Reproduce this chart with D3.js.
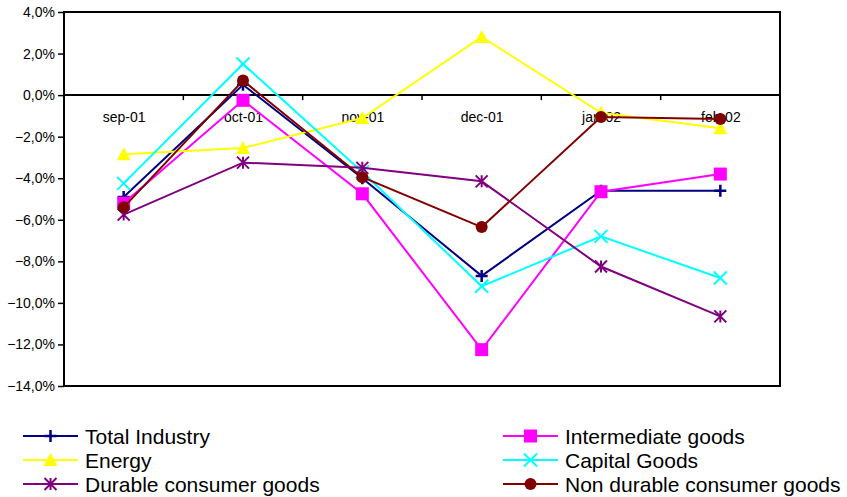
<!DOCTYPE html>
<html><head><meta charset="utf-8">
<script src="https://cdn.jsdelivr.net/npm/d3@7"></script>
<style>body{margin:0;background:#fff}svg{display:block}</style>
</head><body>
<svg id="c" width="847" height="497"></svg>
<script>
const categories = ['sep-01','oct-01','nov-01','dec-01','jan-02','feb-02'];
const yTicks = [4,2,0,-2,-4,-6,-8,-10,-12,-14];
const totalIndustry = [-4.9, 0.5, -4.0, -8.7, -4.6, -4.6];
const intermediateGoods = [-5.2, -0.25, -4.75, -12.25, -4.65, -3.8];
const energy = [-2.85, -2.55, -1.1, 2.8, -0.85, -1.6];
const capitalGoods = [-4.25, 1.5, -3.7, -9.2, -6.8, -8.8];
const durableGoods = [-5.75, -3.25, -3.5, -4.15, -8.25, -10.65];
const nonDurableGoods = [-5.4, 0.7, -3.95, -6.35, -1.05, -1.15];

const series = [
  {name:'Total Industry', values: totalIndustry, color:'#000080', marker:'plus', col:0, row:0},
  {name:'Intermediate goods', values: intermediateGoods, color:'#FF00FF', marker:'square', col:1, row:0},
  {name:'Energy', values: energy, color:'#FFFF00', marker:'triangle', col:0, row:1},
  {name:'Capital Goods', values: capitalGoods, color:'#00FFFF', marker:'x', col:1, row:1},
  {name:'Durable consumer goods', values: durableGoods, color:'#800080', marker:'star', col:0, row:2},
  {name:'Non durable consumer goods', values: nonDurableGoods, color:'#800000', marker:'circle', col:1, row:2}
];

const svg = d3.select('#c');
const L = 64, R = 780, T = 12, B = 386;
const x = d3.scalePoint().domain(categories).range([L, R]).padding(0.5);
const y = d3.scaleLinear().domain([-14, 4]).range([B, T]);
const font = 'Arial, "Liberation Sans", sans-serif';

// y axis
const yAxis = d3.axisLeft(y).tickValues(yTicks).tickSize(6).tickPadding(3)
  .tickFormat(d => d3.format('.1f')(d).replace('.', ',') + '%');
const ga = svg.append('g').attr('transform', `translate(${L},0)`).call(yAxis);
ga.select('.domain').remove();
ga.selectAll('.tick line').attr('stroke', '#000').attr('stroke-width', 1.5);
ga.selectAll('.tick text').attr('font-family', font).attr('font-size', 14).attr('fill', '#000');

// plot frame
svg.append('rect').attr('x', L).attr('y', T).attr('width', R - L).attr('height', B - T)
  .attr('fill', 'none').attr('stroke', '#000').attr('stroke-width', 2);

// zero line x axis with ticks at category boundaries
const xAxis = d3.axisBottom(x).tickSize(0).tickPadding(17);
const gx = svg.append('g').attr('transform', `translate(0,${y(0)})`).call(xAxis);
gx.select('.domain').attr('d', `M${L},0H${R}`).attr('stroke', '#000').attr('stroke-width', 2);
gx.selectAll('.tick text').attr('font-family', font).attr('font-size', 14).attr('fill', '#000');
const step = x.step();
const bounds = d3.range(categories.length + 1).map(i => L + i * step);
gx.selectAll('line.bt').data(bounds).enter().append('line').attr('class', 'bt')
  .attr('x1', d => d).attr('x2', d => d).attr('y1', 0).attr('y2', 5)
  .attr('stroke', '#000').attr('stroke-width', 1.5);

function drawMarker(g, type, color, cx, cy, s) {
  const h = s / 2;
  if (type === 'plus') {
    g.append('path').attr('d', `M${cx},${cy-h}V${cy+h}M${cx-h},${cy}H${cx+h}`)
      .attr('stroke', color).attr('stroke-width', 2.5).attr('fill', 'none');
  } else if (type === 'square') {
    g.append('rect').attr('x', cx - h).attr('y', cy - h).attr('width', s).attr('height', s).attr('fill', color);
  } else if (type === 'triangle') {
    g.append('path').attr('d', `M${cx},${cy-h-1}L${cx+h+1},${cy+h}L${cx-h-1},${cy+h}Z`).attr('fill', color);
  } else if (type === 'x') {
    g.append('path').attr('d', `M${cx-h},${cy-h}L${cx+h},${cy+h}M${cx-h},${cy+h}L${cx+h},${cy-h}`)
      .attr('stroke', color).attr('stroke-width', 2).attr('fill', 'none');
  } else if (type === 'star') {
    g.append('path').attr('d', `M${cx-h},${cy-h}L${cx+h},${cy+h}M${cx-h},${cy+h}L${cx+h},${cy-h}M${cx},${cy-h}V${cy+h}`)
      .attr('stroke', color).attr('stroke-width', 2).attr('fill', 'none');
  } else if (type === 'circle') {
    g.append('circle').attr('cx', cx).attr('cy', cy).attr('r', h).attr('fill', color);
  }
}
const markerSize = {plus: 12, square: 13, triangle: 12, x: 13, star: 12, circle: 12};

const line = d3.line().x((d, i) => x(categories[i])).y(d => y(d));
series.forEach(s => {
  const g = svg.append('g');
  g.append('path').datum(s.values).attr('d', line).attr('fill', 'none')
    .attr('stroke', s.color).attr('stroke-width', 2);
  s.values.forEach((v, i) => drawMarker(g, s.marker, s.color, x(categories[i]), y(v), markerSize[s.marker]));
});

// legend
const colX = [23, 503];
const rowY = [436, 460, 484];
series.forEach(s => {
  const g = svg.append('g');
  const x0 = colX[s.col], yy = rowY[s.row];
  g.append('line').attr('x1', x0).attr('x2', x0 + 55).attr('y1', yy).attr('y2', yy)
    .attr('stroke', s.color).attr('stroke-width', 2);
  drawMarker(g, s.marker, s.color, x0 + 27.5, yy, markerSize[s.marker]);
  g.append('text').attr('x', x0 + 62).attr('y', yy + 7.5).attr('font-family', font)
    .attr('font-size', 21).attr('fill', '#000').text(s.name);
});
</script>
</body></html>
